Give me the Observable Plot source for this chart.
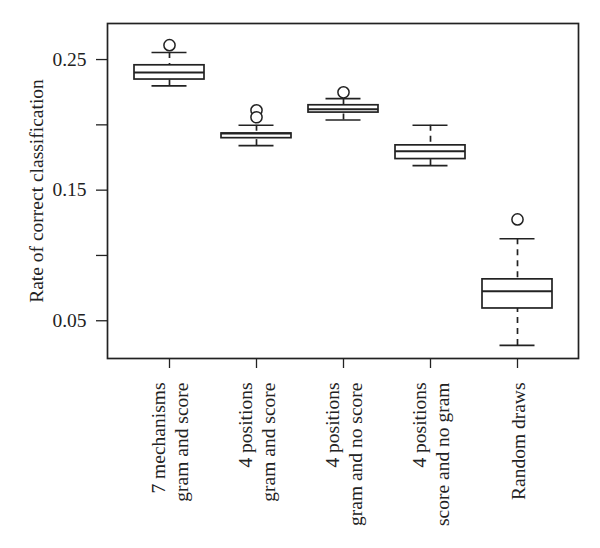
<!DOCTYPE html>
<html><head><meta charset="utf-8">
<script src="https://cdn.jsdelivr.net/npm/d3@7"></script>
<script src="https://cdn.jsdelivr.net/npm/@observablehq/plot@0.6"></script>
<style>body{margin:0;background:#fff}</style>
</head><body><div id="chart"></div>
<script>
const categories = [
  "7 mechanisms\ngram and score",
  "4 positions\ngram and score",
  "4 positions\ngram and no score",
  "4 positions\nscore and no gram",
  "Random draws"
];
const lowerWhisker = [0.2298, 0.1841, 0.2037, 0.1688, 0.0311];
const q1 =           [0.2347, 0.1898, 0.2094, 0.1738, 0.0594];
const median =       [0.2400, 0.1933, 0.2119, 0.1797, 0.0725];
const q3 =           [0.2456, 0.1934, 0.2150, 0.1843, 0.0817];
const upperWhisker = [0.2554, 0.1997, 0.2201, 0.1997, 0.1128];
const outlierGroup = [0, 1, 1, 2, 4];
const outlierValue = [0.2610, 0.2111, 0.2058, 0.2249, 0.1276];
const yTicks = [0.05, 0.10, 0.15, 0.20, 0.25];
const yTickLabels = ["0.05", "", "0.15", "", "0.25"];
const yLabel = "Rate of correct classification";

const boxes = categories.map((c, i) => ({cat: c, lo: lowerWhisker[i], q1: q1[i], med: median[i], q3: q3[i], hi: upperWhisker[i]}));
const outliers = outlierValue.map((v, i) => ({cat: categories[outlierGroup[i]], v}));
const ink = "#222";
const sw = 1.7;

const chart = Plot.plot({
  width: 600, height: 548,
  marginTop: 23, marginBottom: 190, marginLeft: 107, marginRight: 22,
  style: {fontFamily: "'Liberation Serif', 'Times New Roman', serif", fontSize: "19.5px", background: "#fff", color: ink},
  x: {type: "band", domain: categories, paddingInner: 0.2, paddingOuter: 0.3, axis: null},
  y: {domain: [0.0211, 0.2776], axis: null},
  marks: [
    Plot.ruleX(boxes, {x: "cat", y1: "hi", y2: "q3", stroke: ink, strokeWidth: sw, strokeDasharray: "6,5"}),
    Plot.ruleX(boxes, {x: "cat", y1: "lo", y2: "q1", stroke: ink, strokeWidth: sw, strokeDasharray: "6,5"}),
    Plot.tickY(boxes, {x: "cat", y: "hi", insetLeft: 17.5, insetRight: 17.5, stroke: ink, strokeWidth: sw}),
    Plot.tickY(boxes, {x: "cat", y: "lo", insetLeft: 17.5, insetRight: 17.5, stroke: ink, strokeWidth: sw}),
    Plot.barY(boxes, {x: "cat", y1: "q1", y2: "q3", fill: "#fff", stroke: ink, strokeWidth: sw}),
    Plot.tickY(boxes, {x: "cat", y: "med", stroke: ink, strokeWidth: 2}),
    Plot.dot(outliers, {x: "cat", y: "v", r: 5.6, fill: "#fff", stroke: ink, strokeWidth: 1.5}),
    Plot.frame({stroke: ink, strokeWidth: sw}),
    Plot.axisY({ticks: yTicks, tickSize: 11, tickPadding: 10, tickFormat: d => yTickLabels[yTicks.indexOf(d)], label: null, strokeWidth: 1.3}),
    Plot.axisX({tickSize: 10, tickFormat: () => "", label: null, strokeWidth: 1.3}),
    Plot.text(categories, {x: d => d, text: d => d, frameAnchor: "bottom", dy: 24, rotate: -90, textAnchor: "end", lineAnchor: "middle", lineHeight: 1.15, fill: ink}),
    Plot.text([yLabel], {text: d => d, frameAnchor: "left", dx: -71, rotate: -90, textAnchor: "middle", lineAnchor: "middle", fill: ink})
  ]
});
document.getElementById("chart").append(chart);
</script>
</body></html>
